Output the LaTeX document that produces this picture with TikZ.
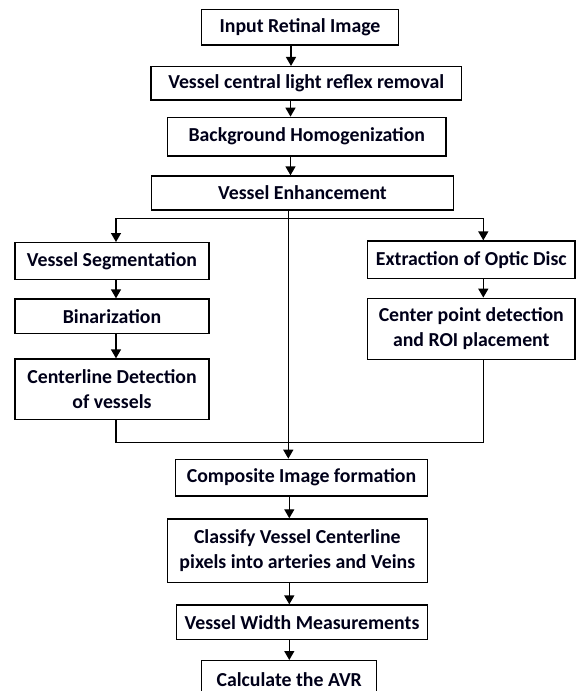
\documentclass[tikz,border=0pt]{standalone}
\usepackage{fontspec}
\setmainfont{Carlito}
\usetikzlibrary{arrows.meta}
\begin{document}
\begin{tikzpicture}[x=1pt,y=-1pt,
  box/.style={draw=black,line width=1.4pt,fill=white,inner sep=0pt,align=center,
    font=\bfseries\fontsize{19.8}{25}\selectfont,text=black!90!blue},
  arr/.style={line width=1.4pt,-{Triangle[length=9pt,width=10pt]}},
  ln/.style={line width=1.4pt}]
\useasboundingbox (0,0) rectangle (576,691);
\fill[white] (0,0) rectangle (576,691);
\node[box,minimum width=196.6pt,minimum height=35.7pt] (in) at (300,27.2) {Input Retinal Image};
\node[box,minimum width=310.7pt,minimum height=33.3pt] (rf) at (306.3,83.3) {Vessel central light reflex removal};
\node[box,minimum width=278.3pt,minimum height=38.7pt] (bg) at (306.8,136.7) {Background Homogenization};
\node[box,minimum width=301.6pt,minimum height=34pt] (en) at (302.5,193) {Vessel Enhancement};
\node[box,minimum width=194pt,minimum height=36.6pt] (vs) at (112,261) {Vessel Segmentation};
\node[box,minimum width=194pt,minimum height=34.3pt] (bi) at (112,316.2) {Binarization};
\node[box,minimum width=194pt,minimum height=60.3pt] (cl) at (112,389.2) {Centerline Detection\\of vessels};
\node[box,minimum width=207.3pt,minimum height=37.3pt] (od) at (471.3,259.7) {Extraction of Optic Disc};
\node[box,minimum width=207.3pt,minimum height=61pt] (cp) at (471.3,328.8) {Center point detection\\and ROI placement};
\node[box,minimum width=251.6pt,minimum height=36.7pt] (ci) at (301.5,477.7) {Composite Image formation};
\node[box,minimum width=260pt,minimum height=63.7pt] (cv) at (297.3,550.8) {Classify Vessel Centerline\\pixels into arteries and Veins};
\node[box,minimum width=250.6pt,minimum height=34.3pt] (wm) at (302,622.2) {Vessel Width Measurements};
\node[box,minimum width=175pt,minimum height=44pt,anchor=north] (avr) at (289.2,660) {\raisebox{7pt}{Calculate the AVR}};
% reference columns
\coordinate (ca) at (291,0);
\coordinate (cb) at (290.5,0);
\coordinate (cc) at (288.3,0);
\coordinate (cd) at (289.3,0);
\coordinate (lx) at (116,0);
\coordinate (rx) at (483.3,0);
\coordinate (by) at (0,218.3);
\coordinate (my) at (0,442.5);
\draw[arr] (in.south -| ca) -- (rf.north -| ca);
\draw[arr] (rf.south -| cb) -- (bg.north -| cb);
\draw[arr] (bg.south -| cb) -- (en.north -| cb);
\draw[arr] (en.south -| cc) -- (ci.north -| cc);
\draw[ln] (lx |- by) -- (rx |- by);
\draw[arr] (lx |- by) -- (vs.north -| lx);
\draw[arr] (rx |- by) -- (od.north -| rx);
\draw[arr] (vs.south -| lx) -- (bi.north -| lx);
\draw[arr] (bi.south -| lx) -- (cl.north -| lx);
\draw[arr] (od.south -| rx) -- (cp.north -| rx);
\draw[ln] (cl.south -| lx) -- (lx |- my) -- (rx |- my) -- (cp.south -| rx);
\draw[arr] (ci.south -| cd) -- (cv.north -| cd);
\draw[arr] (cv.south -| cd) -- (wm.north -| cd);
\draw[arr] (wm.south -| cd) -- (avr.north -| cd);
\end{tikzpicture}
\end{document}
